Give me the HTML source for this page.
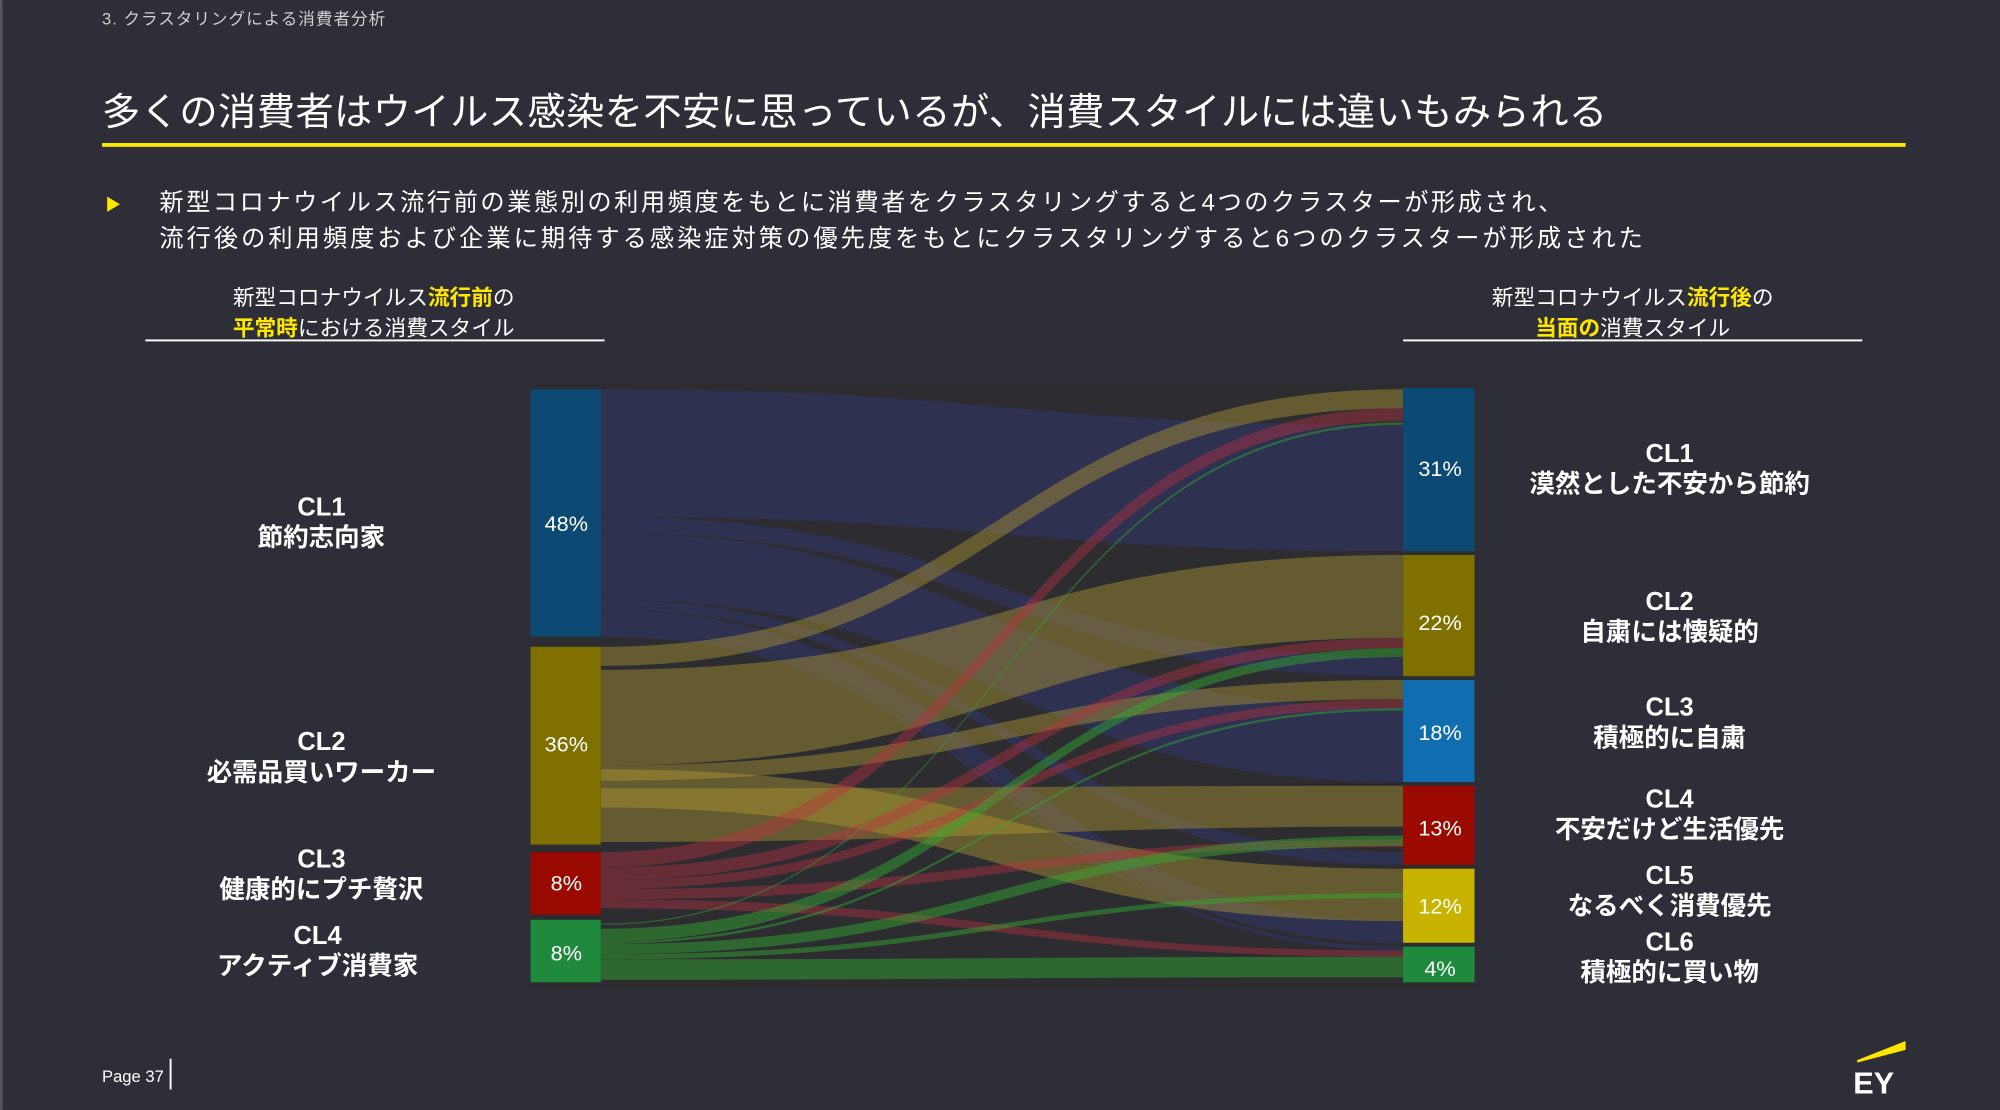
<!DOCTYPE html>
<html><head><meta charset="utf-8"><style>
html,body{margin:0;padding:0;background:#2e2e38;}
svg{display:block}
text{font-family:"Liberation Sans","Noto Sans CJK JP",sans-serif;fill:#fff}
</style></head><body>
<svg width="2000" height="1110" viewBox="0 0 1568 870" xmlns="http://www.w3.org/2000/svg">
<rect width="1568" height="870" fill="#2e2e38"/>
<rect x="0" y="0" width="2" height="870" fill="#55555f"/>
<text x="80" y="19" font-size="13" textLength="222" style="fill:#cfcfcf">3.  クラスタリングによる消費者分析</text>
<text x="80" y="98" font-size="30" textLength="1180">多くの消費者はウイルス感染を不安に思っているが、消費スタイルには違いもみられる</text>
<rect x="80" y="112" width="1414" height="3" fill="#ffe600"/>
<polygon points="84,154 94,160 84,166" fill="#ffe600"/>
<text x="125" y="165" font-size="19" textLength="1100">新型コロナウイルス流行前の業態別の利用頻度をもとに消費者をクラスタリングすると4つのクラスターが形成され、</text>
<text x="125" y="193" font-size="19" textLength="1163">流行後の利用頻度および企業に期待する感染症対策の優先度をもとにクラスタリングすると6つのクラスターが形成された</text>
<text x="293" y="239" font-size="17" text-anchor="middle">新型コロナウイルス<tspan font-weight="bold" style="fill:#ffe600">流行前</tspan>の</text>
<text x="293" y="263" font-size="17" text-anchor="middle"><tspan font-weight="bold" style="fill:#ffe600">平常時</tspan>における消費スタイル</text>
<rect x="114" y="266" width="360" height="1.5" fill="#fff"/>
<text x="1280" y="239" font-size="17" text-anchor="middle">新型コロナウイルス<tspan font-weight="bold" style="fill:#ffe600">流行後</tspan>の</text>
<text x="1280" y="263" font-size="17" text-anchor="middle"><tspan font-weight="bold" style="fill:#ffe600">当面の</tspan>消費スタイル</text>
<rect x="1100" y="266" width="360" height="1.5" fill="#fff"/>
<rect x="416" y="300" width="740" height="475" fill="#2d2d31"/>
<g fill="#343a95" fill-opacity="0.32">
<path d="M471 305 C785 305 785 333 1100 333 L1100 432 C785 432 785 405 471 405 Z"/>
<path d="M471 405 C785 405 785 515 1100 515 L1100 530 C785 530 785 418 471 418 Z"/>
<path d="M471 418 C785 418 785 555 1100 555 L1100 613 C785 613 785 470 471 470 Z"/>
<path d="M471 470 C785 470 785 668 1100 668 L1100 678 C785 678 785 478 471 478 Z"/>
<path d="M471 478 C785 478 785 722 1100 722 L1100 739 C785 739 785 495 471 495 Z"/>
<path d="M471 495 C785 495 785 742 1100 742 L1100 745 C785 745 785 499 471 499 Z"/>
</g>
<g fill="#b8a030" fill-opacity="0.4">
<path d="M471 507 C785 507 785 305 1100 305 L1100 320 C785 320 785 522 471 522 Z"/>
<path d="M471 525 C785 525 785 435 1100 435 L1100 500 C785 500 785 600 471 600 Z"/>
<path d="M471 600 C785 600 785 533 1100 533 L1100 548 C785 548 785 612 471 612 Z"/>
<path d="M471 618 C785 618 785 616 1100 616 L1100 648 C785 648 785 660 471 660 Z"/>
<path d="M471 603 C785 603 785 681 1100 681 L1100 722 C785 722 785 633 471 633 Z"/>
</g>
<g fill="#c03040" fill-opacity="0.4">
<path d="M471 668 C785 668 785 320 1100 320 L1100 330 C785 330 785 680 471 680 Z"/>
<path d="M471 680 C785 680 785 500 1100 500 L1100 508 C785 508 785 690 471 690 Z"/>
<path d="M471 690 C785 690 785 548 1100 548 L1100 555 C785 555 785 697 471 697 Z"/>
<path d="M471 697 C785 697 785 658 1100 658 L1100 664 C785 664 785 705 471 705 Z"/>
<path d="M471 705 C785 705 785 745 1100 745 L1100 750 C785 750 785 712 471 712 Z"/>
</g>
<g fill="#30b030" fill-opacity="0.45">
<path d="M471 724 C785 724 785 331 1100 331 L1100 333 C785 333 785 725 471 725 Z"/>
<path d="M471 728 C785 728 785 508 1100 508 L1100 515 C785 515 785 738 471 738 Z"/>
<path d="M471 738 C785 738 785 555 1100 555 L1100 557 C785 557 785 740 471 740 Z"/>
<path d="M471 740 C785 740 785 655 1100 655 L1100 663 C785 663 785 748 471 748 Z"/>
<path d="M471 748 C785 748 785 700 1100 700 L1100 704 C785 704 785 752 471 752 Z"/>
<path d="M471 752 C785 752 785 750 1100 750 L1100 766 C785 766 785 768 471 768 Z"/>
</g>
<rect x="416" y="305" width="55" height="194" fill="#0d4a73"/>
<rect x="416" y="507" width="55" height="155" fill="#7f7000"/>
<rect x="416" y="668" width="55" height="49" fill="#9a0a00"/>
<rect x="416" y="721" width="55" height="49" fill="#1f8a3c"/>
<rect x="1100" y="304" width="56" height="128" fill="#0d4a73"/>
<rect x="1100" y="435" width="56" height="95" fill="#7f7000"/>
<rect x="1100" y="533" width="56" height="80" fill="#0f6db0"/>
<rect x="1100" y="616" width="56" height="62" fill="#9a0a00"/>
<rect x="1100" y="681" width="56" height="58" fill="#c8b400"/>
<rect x="1100" y="742" width="56" height="28" fill="#1f8a3c"/>
<g font-size="17" text-anchor="middle">
<text x="444" y="416">48%</text><text x="444" y="589">36%</text><text x="444" y="698">8%</text><text x="444" y="753">8%</text>
<text x="1129" y="373">31%</text><text x="1129" y="494">22%</text><text x="1129" y="580">18%</text><text x="1129" y="655">13%</text><text x="1129" y="716">12%</text><text x="1129" y="765">4%</text>
</g>
<g font-size="20" text-anchor="middle" font-weight="bold">
<text x="252" y="404">CL1</text><text x="252" y="428">節約志向家</text>
<text x="252" y="588">CL2</text><text x="252" y="612">必需品買いワーカー</text>
<text x="252" y="680">CL3</text><text x="252" y="704">健康的にプチ贅沢</text>
<text x="249" y="740">CL4</text><text x="249" y="764">アクティブ消費家</text>
<text x="1309" y="362">CL1</text><text x="1309" y="386">漠然とした不安から節約</text>
<text x="1309" y="478">CL2</text><text x="1309" y="502">自粛には懐疑的</text>
<text x="1309" y="561">CL3</text><text x="1309" y="585">積極的に自粛</text>
<text x="1309" y="633">CL4</text><text x="1309" y="657">不安だけど生活優先</text>
<text x="1309" y="693">CL5</text><text x="1309" y="717">なるべく消費優先</text>
<text x="1309" y="745">CL6</text><text x="1309" y="769">積極的に買い物</text>
</g>
<text x="80" y="848" font-size="13">Page 37</text>
<rect x="133" y="830" width="1.5" height="24" fill="#fff"/>
<polygon points="1456,831 1494,816 1494,823 1456,833" fill="#ffe600"/>
<text x="1453" y="857" font-size="24" font-weight="bold">EY</text>
</svg>
</body></html>
